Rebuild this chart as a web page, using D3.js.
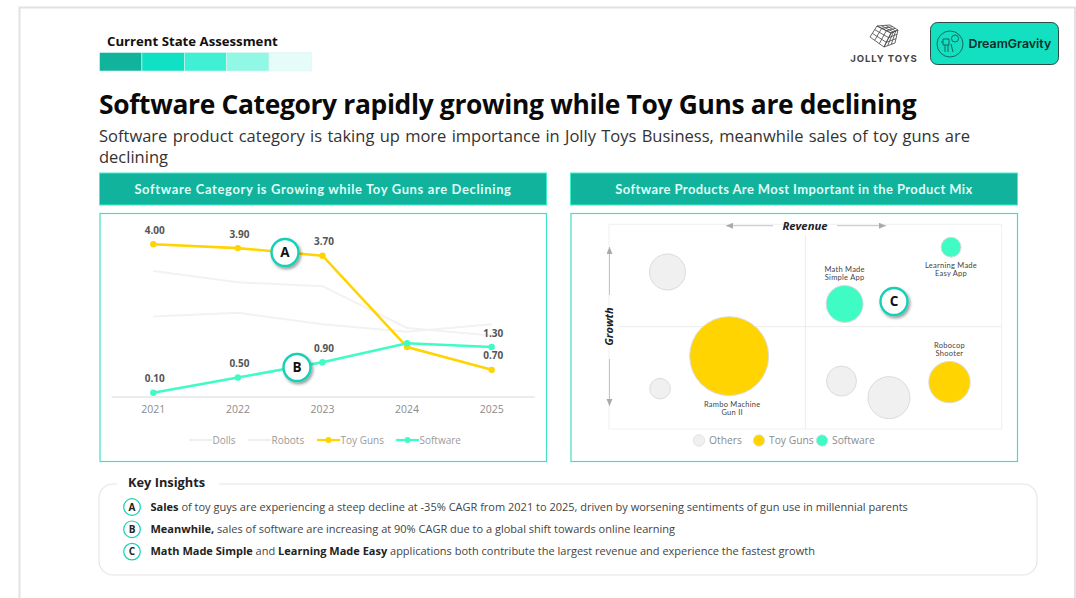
<!DOCTYPE html>
<html>
<head>
<meta charset="utf-8">
<script src="https://cdn.jsdelivr.net/npm/d3@7"></script>
<style>
  html, body { margin: 0; padding: 0; background: #fff; overflow: hidden; }
  svg { display: block; font-family: "Open Sans", sans-serif; }
</style>
</head>
<body>
<svg id="page" width="1076" height="598"></svg>
<script>
// line chart data
const years = ["2021", "2022", "2023", "2024", "2025"];
const dolls = [2.1, 2.2, 1.9, 1.7, 1.9];
const robots = [3.3, 3.0, 2.9, 1.8, 1.6];
const toyGuns = [4.0, 3.9, 3.7, 1.3, 0.7];
const software = [0.1, 0.5, 0.9, 1.4, 1.3];
const labelledYears = ["2021", "2022", "2023", "2025"];

// bubble chart data (revenue, growth, size on 0-100 scales)
const bubbleNames = [
  ["Rambo Machine", "Gun II"], ["Math Made", "Simple App"], ["Learning Made", "Easy App"], ["Robocop", "Shooter"],
  [], [], [], []
];
const bubbleGroups = ["Toy Guns", "Software", "Software", "Toy Guns", "Others", "Others", "Others", "Others"];
const bubbleRevenue = [30.6, 60, 87.1, 86.7, 14.9, 13, 59.2, 71.3];
const bubbleGrowth = [35.6, 61.1, 88.8, 22.9, 76.7, 19.7, 23.4, 15.3];
const bubbleSize = [100, 21.9, 6.4, 27.5, 20.8, 6.8, 14.4, 28.3];
const bubbleLegend = ["Others", "Toy Guns", "Software"];

const swatches = ["#12b39c", "#10e0c4", "#3ff0d4", "#90f8e4", "#e6fcf8"];
const teal = "#12b39c", ring = "#15d0b5", mint = "#3ffcc4", yellow = "#ffd400";
const groupFill = { "Others": "#f0f0f0", "Toy Guns": yellow, "Software": mint };

const svg = d3.select("#page");

const defs = svg.append("defs");
const shadow = defs.append("filter").attr("id", "shadow")
  .attr("x", "-40%").attr("y", "-40%").attr("width", "190%").attr("height", "190%");
shadow.append("feDropShadow").attr("dx", 1.5).attr("dy", 2).attr("stdDeviation", 1.5)
  .attr("flood-color", "#000").attr("flood-opacity", 0.4);
defs.append("marker").attr("id", "arrow").attr("markerWidth", 8).attr("markerHeight", 8)
  .attr("refX", 7).attr("refY", 3).attr("orient", "auto")
  .append("path").attr("d", "M0,0L7,3L0,6Z").attr("fill", "#aaa");

// page frame
svg.append("rect").attr("x", 19.5).attr("y", 7.5).attr("width", 1055.5).attr("height", 620)
  .attr("fill", "#fff").attr("stroke", "#e2e2e2").attr("stroke-width", 2);

// header
svg.append("text").attr("x", 107).attr("y", 46).attr("font-size", 13.2).attr("font-weight", 700)
  .attr("fill", "#111").text("Current State Assessment");
svg.selectAll(".swatch").data(swatches).enter().append("rect")
  .attr("x", (d, i) => 99.5 + i * 42.4).attr("y", 52.5).attr("width", 42.4).attr("height", 18.5)
  .attr("fill", d => d).attr("stroke", "#dff5f1").attr("stroke-width", 0.6);

svg.append("text").attr("x", 99).attr("y", 113.5).attr("font-size", 26.4).attr("font-weight", 700)
  .attr("letter-spacing", -0.34).attr("fill", "#0a0a0a")
  .text("Software Category rapidly growing while Toy Guns are declining");

// subtitle is justified in the original, so stretch the word gaps to fit
const sub = svg.append("text").attr("x", 99).attr("y", 141.5).attr("font-size", 16.5)
  .attr("fill", "#333").text("Software product category is taking up more importance in Jolly Toys Business, meanwhile sales of toy guns are");
const subExtra = 870 - sub.node().getComputedTextLength();
sub.attr("word-spacing", subExtra / 16);
svg.append("text").attr("x", 99).attr("y", 162.5).attr("font-size", 16.5).attr("fill", "#333").text("declining");

// logos
const cube = svg.append("g").attr("fill", "none").attr("stroke", "#444").attr("stroke-width", 0.8);
function cubeFace(a, b, c, d) {
  cube.append("path").attr("d", `M${a}L${b}L${c}L${d}Z`);
  [1 / 3, 2 / 3].forEach(t => {
    const mix = (p, q) => [p[0] + (q[0] - p[0]) * t, p[1] + (q[1] - p[1]) * t];
    cube.append("path").attr("d", `M${mix(a, b)}L${mix(d, c)}M${mix(a, d)}L${mix(b, c)}`);
  });
}
cubeFace([870, 37], [877, 26], [891, 33], [884, 47]);
cubeFace([877, 26], [890, 25], [898, 30], [891, 33]);
cubeFace([891, 33], [898, 30], [895, 43], [884, 47]);
svg.append("text").attr("x", 884).attr("y", 61.5).attr("text-anchor", "middle").attr("font-size", 9.5)
  .attr("font-family", "Inter, sans-serif").attr("font-weight", 700).attr("letter-spacing", 0.95)
  .attr("fill", "#444").text("JOLLY TOYS");

svg.append("rect").attr("x", 930.5).attr("y", 22.5).attr("width", 128).attr("height", 42).attr("rx", 7)
  .attr("fill", "#12e0c0").attr("stroke", "#2b4a48").attr("stroke-width", 1);
const dg = svg.append("g").attr("fill", "none").attr("stroke", "#145c54").attr("stroke-width", 0.9);
dg.append("circle").attr("cx", 950).attr("cy", 44).attr("r", 13);
dg.append("circle").attr("cx", 955).attr("cy", 38.5).attr("r", 3.5);
dg.append("path").attr("d", "M943,39h6v6h-6zM945,45v7M948,45v7M951,44l2,8M943,42h-2");
svg.append("text").attr("x", 968.5).attr("y", 48).attr("font-size", 12.4).attr("font-weight", 600)
  .attr("font-family", "Inter, sans-serif").attr("fill", "#0c2e2a").text("DreamGravity");

// section bars and panels
function panel(x, title, spacing) {
  svg.append("rect").attr("x", x).attr("y", 173).attr("width", 447).attr("height", 32)
    .attr("fill", teal).attr("stroke", "#3ff0cc").attr("stroke-width", 1);
  svg.append("text").attr("x", x + 223.5).attr("y", 193.5).attr("text-anchor", "middle")
    .attr("font-size", 13).attr("font-weight", 700).attr("font-family", "Lato, sans-serif")
    .attr("letter-spacing", spacing).attr("fill", "#dffcf5").text(title);
  svg.append("rect").attr("x", x + 0.5).attr("y", 213.5).attr("width", 446.5).attr("height", 248)
    .attr("fill", "#fff").attr("stroke", "#3fe0c5").attr("stroke-width", 1.2);
}
panel(99.5, "Software Category is Growing while Toy Guns are Declining", 0.63);
panel(570.5, "Software Products Are Most Important in the Product Mix", 0.4);

// ---- line chart ----
const x = d3.scaleBand().domain(years).range([111, 534]);
const y = d3.scaleLinear().domain([0, 4]).range([396.5, 244.3]);
const xc = d => x(d) + x.bandwidth() / 2;
const line = d3.line().x((d, i) => xc(years[i])).y(d => y(d));

svg.append("g").attr("transform", "translate(0,396.5)")
  .call(d3.axisBottom(x).tickSize(0).tickPadding(9))
  .call(g => g.select(".domain").attr("stroke", "#d9d9d9"))
  .call(g => g.selectAll("text").attr("font-family", "Open Sans, sans-serif").attr("font-size", 10.5).attr("fill", "#8c8c8c"));

[dolls, robots].forEach(s => {
  svg.append("path").datum(s).attr("d", line).attr("fill", "none").attr("stroke", "#f2f2f2").attr("stroke-width", 2);
});
[[toyGuns, yellow], [software, mint]].forEach(([s, color]) => {
  svg.append("path").datum(s).attr("d", line).attr("fill", "none").attr("stroke", color).attr("stroke-width", 2.6);
  svg.selectAll(null).data(s).enter().append("circle")
    .attr("cx", (d, i) => xc(years[i])).attr("cy", d => y(d)).attr("r", 3.2).attr("fill", color);
  svg.selectAll(null).data(years.map((yr, i) => ({ yr, v: s[i] })).filter(d => labelledYears.includes(d.yr))).enter().append("text")
    .attr("x", d => xc(d.yr) + 1.5).attr("y", d => y(d.v) - 10.5).attr("text-anchor", "middle")
    .attr("font-size", 10).attr("font-weight", 700).attr("fill", "#555").text(d => d.v.toFixed(2));
});

function callout(cx, cy, letter) {
  svg.append("circle").attr("cx", cx).attr("cy", cy).attr("r", 13.5).attr("fill", "#fff")
    .attr("stroke", ring).attr("stroke-width", 2.4).attr("filter", "url(#shadow)");
  svg.append("text").attr("x", cx).attr("y", cy + 4.8).attr("text-anchor", "middle").attr("font-size", 13.5)
    .attr("font-weight", 700).attr("fill", "#111").text(letter);
}
callout(285, 252.5, "A");
callout(297, 367.5, "B");

// line legend
[["Dolls", 189, "#f0f0f0", false], ["Robots", 248, "#f0f0f0", false], ["Toy Guns", 317, yellow, true], ["Software", 396, mint, true]]
  .forEach(([name, lx, color, dot]) => {
    svg.append("line").attr("x1", lx).attr("x2", lx + 23).attr("y1", 440).attr("y2", 440)
      .attr("stroke", color).attr("stroke-width", 2.2);
    if (dot) svg.append("circle").attr("cx", lx + 11.5).attr("cy", 440).attr("r", 3).attr("fill", color);
    svg.append("text").attr("x", lx + 23.5).attr("y", 444).attr("font-size", 10).attr("fill", "#9a9a9a").text(name);
  });

// ---- bubble chart ----
const bx = d3.scaleLinear().domain([0, 100]).range([609, 1001.7]);
const by = d3.scaleLinear().domain([0, 100]).range([429, 224.3]);
const br = d3.scaleSqrt().domain([0, 100]).range([0, 39.5]);

svg.append("rect").attr("x", bx(0)).attr("y", by(100)).attr("width", bx(100) - bx(0)).attr("height", by(0) - by(100))
  .attr("fill", "none").attr("stroke", "#f0f0f0").attr("stroke-width", 1);
svg.append("line").attr("x1", bx(50)).attr("x2", bx(50)).attr("y1", 235).attr("y2", by(0)).attr("stroke", "#ececec");
svg.append("line").attr("x1", 619).attr("x2", bx(100)).attr("y1", by(50)).attr("y2", by(50)).attr("stroke", "#ececec");

svg.selectAll(".bubble").data(bubbleSize).enter().append("circle")
  .attr("class", "bubble")
  .attr("cx", (d, i) => bx(bubbleRevenue[i])).attr("cy", (d, i) => by(bubbleGrowth[i])).attr("r", d => br(d))
  .attr("fill", (d, i) => groupFill[bubbleGroups[i]]).attr("stroke", "#dcdcdc").attr("stroke-width", 1);

// bubble names: Rambo and Learning sit below their bubbles, the rest above
bubbleNames.forEach((lines, i) => {
  const below = i === 0 || i === 2;
  lines.forEach((t, j) => {
    const cy = by(bubbleGrowth[i]), r = br(bubbleSize[i]);
    const ly = below ? cy + r + 11 + j * 8 : cy - r - 13 + j * 8;
    svg.append("text").attr("x", bx(bubbleRevenue[i]) + (i === 0 ? 3 : 0)).attr("y", ly)
      .attr("text-anchor", "middle").attr("font-size", 7.5).attr("font-family", "Lato, sans-serif")
      .attr("letter-spacing", 0.25).attr("fill", "#444").text(t);
  });
});

function arrow(x1, y1, x2, y2) {
  svg.append("line").attr("x1", x1).attr("y1", y1).attr("x2", x2).attr("y2", y2)
    .attr("stroke", "#c4c4c4").attr("stroke-width", 1).attr("marker-end", "url(#arrow)");
}
arrow(773, 225.7, 726, 225.7);
arrow(837, 225.7, 886, 225.7);
arrow(609.5, 295, 609.5, 247);
arrow(609.5, 359, 609.5, 406);
svg.append("text").attr("x", 805).attr("y", 229.5).attr("text-anchor", "middle").attr("font-size", 11.3)
  .attr("font-weight", 700).attr("font-style", "italic").attr("fill", "#222").text("Revenue");
svg.append("text").attr("transform", "translate(613,326.5) rotate(-90)").attr("text-anchor", "middle")
  .attr("font-size", 11).attr("font-weight", 700).attr("font-style", "italic").attr("fill", "#222").text("Growth");
callout(894, 301.5, "C");

const legendX = [699, 759, 822];
bubbleLegend.forEach((name, i) => {
  svg.append("circle").attr("cx", legendX[i]).attr("cy", 440.5).attr("r", 5.7)
    .attr("fill", groupFill[name]).attr("stroke", "#dcdcdc").attr("stroke-width", 0.8);
  svg.append("text").attr("x", legendX[i] + 10).attr("y", 444.3).attr("font-size", 10.3).attr("fill", "#8c8c8c").text(name);
});

// ---- key insights ----
svg.append("rect").attr("x", 99).attr("y", 484).attr("width", 938).attr("height", 91).attr("rx", 14)
  .attr("fill", "#fff").attr("stroke", "#e6e6e6").attr("stroke-width", 1.2);
svg.append("rect").attr("x", 117).attr("y", 474).attr("width", 102).attr("height", 18).attr("fill", "#fff");
svg.append("text").attr("x", 128).attr("y", 487).attr("font-size", 12.8).attr("font-weight", 700).attr("fill", "#222").text("Key Insights");

const insights = [
  ["A", [["Sales", 1], [" of toy guys are experiencing a steep decline at -35% CAGR from 2021 to 2025, driven by worsening sentiments of gun use in millennial parents", 0]]],
  ["B", [["Meanwhile,", 1], [" sales of software are increasing at 90% CAGR due to a global shift towards online learning", 0]]],
  ["C", [["Math Made Simple", 1], [" and ", 0], ["Learning Made Easy", 1], [" applications both contribute the largest revenue and experience the fastest growth", 0]]]
];
insights.forEach(([letter, parts], i) => {
  const cy = 507 + i * 22.3;
  svg.append("circle").attr("cx", 132).attr("cy", cy).attr("r", 8.3).attr("fill", "#fff").attr("stroke", ring).attr("stroke-width", 1.2);
  svg.append("text").attr("x", 132).attr("y", cy + 3.6).attr("text-anchor", "middle").attr("font-size", 10)
    .attr("font-weight", 700).attr("fill", "#222").text(letter);
  const t = svg.append("text").attr("x", 150.5).attr("y", cy + 3.7).attr("font-size", 11).attr("fill", "#444").attr("xml:space", "preserve");
  parts.forEach(([s, bold]) => {
    t.append("tspan").attr("font-weight", bold ? 700 : 400).attr("fill", bold ? "#222" : "#444").style("white-space", "pre").text(s);
  });
});
</script>
</body>
</html>
